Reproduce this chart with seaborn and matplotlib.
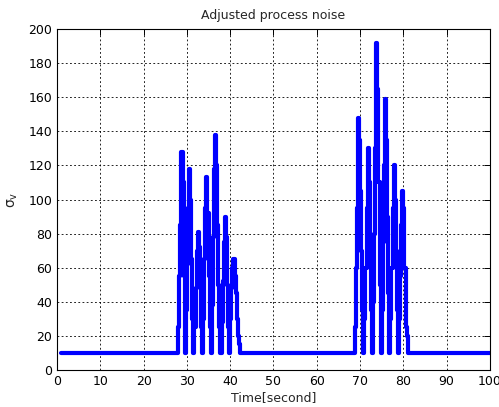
import numpy as np
import pandas as pd
import matplotlib
matplotlib.use('Agg')
import matplotlib.pyplot as plt
import seaborn as sns

# sampling of the signal (seconds)
t_start, t_end, dt = 1.0, 100.0, 0.25
baseline = 10.0

# burst 1, first sample at t = 28.0
burst1_start = 28.0
burst1 = [25, 55, 85, 128, 110, 55, 10,
          35, 62, 95, 118, 100, 65, 30, 10,
          25, 48, 70, 81, 72, 50, 25, 10,
          30, 65, 95, 113, 92, 55, 25, 10,
          38, 78, 118, 138, 120, 85, 50, 25, 10,
          28, 52, 75, 90, 78, 50, 25, 10,
          30, 48, 60, 65, 55, 45, 30, 20, 15]

# burst 2, first sample at t = 68.75
burst2_start = 68.75
burst2 = [25, 60, 95, 148, 135, 105, 70, 35, 10,
          30, 60, 95, 130, 110, 75, 35, 10,
          40, 80, 130, 192, 165, 110, 50, 10,
          35, 75, 120, 159, 135, 90, 45, 10,
          30, 60, 95, 120, 100, 70, 35, 10,
          30, 55, 85, 105, 95, 60, 25, 20]

time = np.arange(t_start, t_end + dt / 2, dt)
sigma = np.full(len(time), baseline)
i1 = int(round((burst1_start - t_start) / dt))
sigma[i1:i1 + len(burst1)] = burst1
i2 = int(round((burst2_start - t_start) / dt))
sigma[i2:i2 + len(burst2)] = burst2

df = pd.DataFrame({'time': time, 'sigma': sigma})

sns.set_style('white')
plt.rcParams['font.family'] = ['DejaVu Sans']

fig = plt.figure(figsize=(4.99, 4.07), dpi=100)
ax = fig.add_axes([0.1142, 0.0909, 0.8677, 0.8378])

sns.lineplot(data=df, x='time', y='sigma', ax=ax, color='#0000ff',
             linewidth=3.0, drawstyle='steps-post')

ax.set_xlim(0, 100)
ax.set_ylim(0, 200)
ax.set_xticks(np.arange(0, 101, 10))
ax.set_yticks(np.arange(0, 201, 20))
ax.grid(True, color='black', linestyle=(0, (2.2, 2.8)), linewidth=0.6)
ax.tick_params(direction='in', length=4, width=0.7, labelsize=9,
               top=True, right=True, colors='black')
for s in ax.spines.values():
    s.set_color('black')
    s.set_linewidth(0.8)

ax.set_title('Adjusted process noise', fontsize=9, pad=7)
ax.set_xlabel('Time[second]', fontsize=9, labelpad=2)
ax.set_ylabel(r'$\mathregular{\sigma_v}$', fontsize=10, labelpad=6)

fig.savefig('out.png', dpi=100)
plt.close()
